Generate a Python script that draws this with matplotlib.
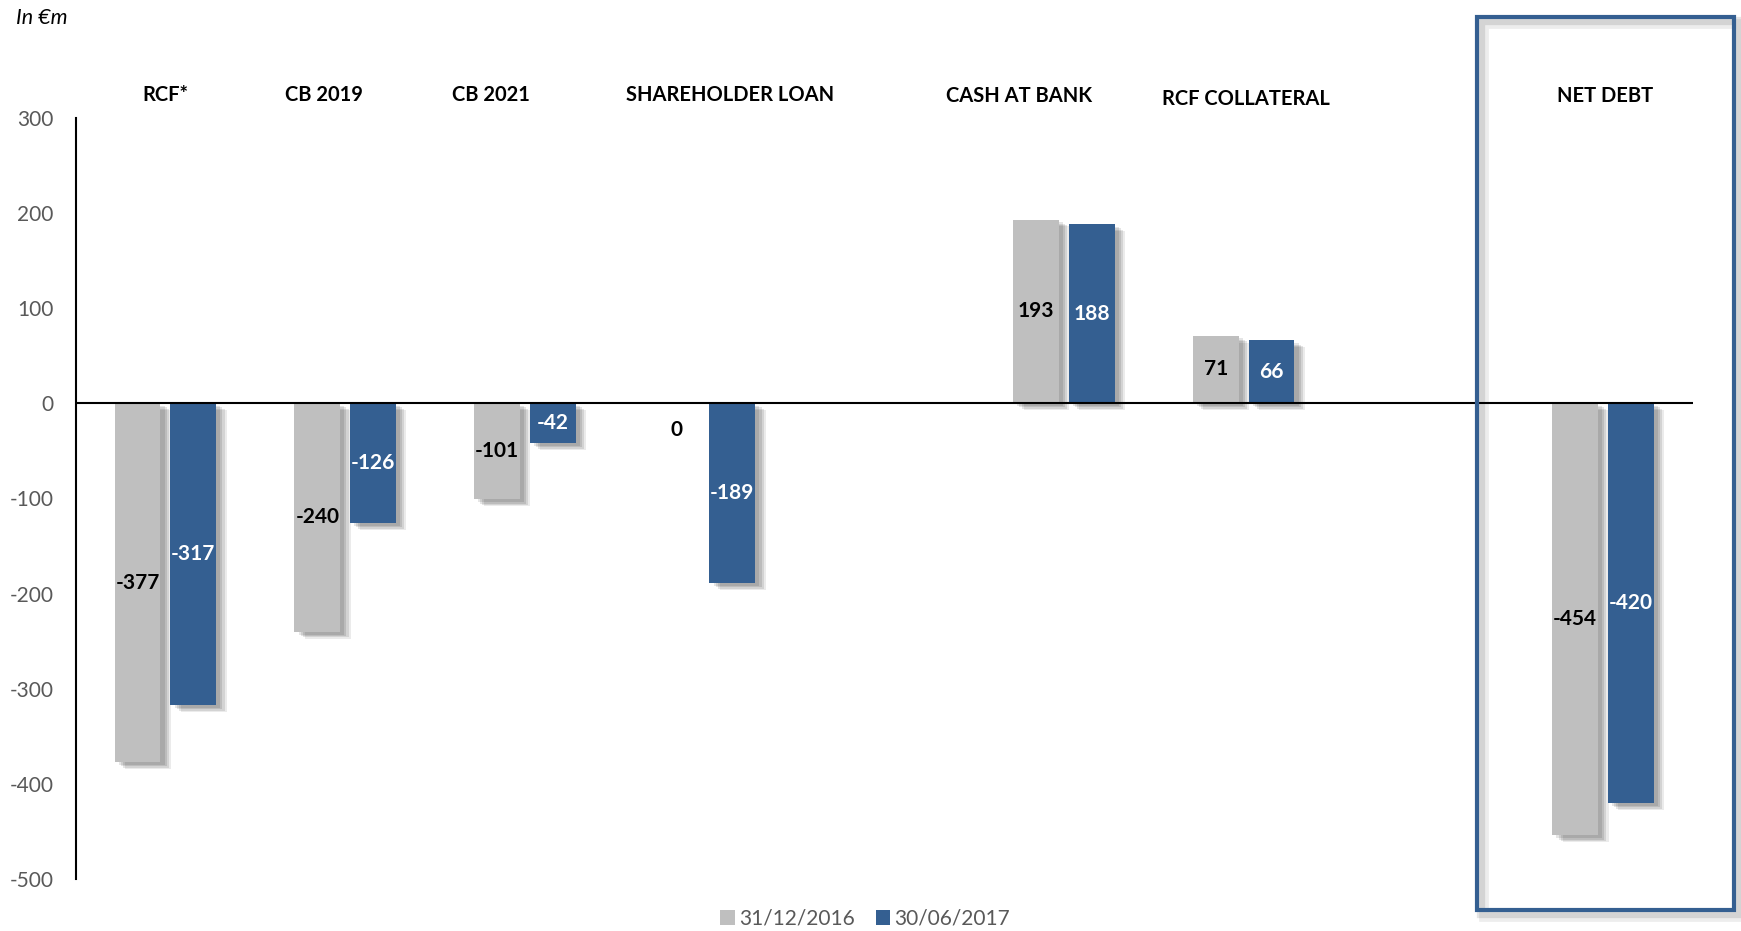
import matplotlib
matplotlib.use("Agg")
import matplotlib.pyplot as plt
import matplotlib.patheffects as pe
from matplotlib.patches import Rectangle, Patch
import numpy as np

plt.rcParams['font.family'] = ['Lato', 'DejaVu Sans']

# ---- data ----
categories = ["RCF*", "CB 2019", "CB 2021", "SHAREHOLDER LOAN", "", "CASH AT BANK",
              "RCF COLLATERAL", "", "NET DEBT"]
series_names = ["31/12/2016", "30/06/2017"]
values_2016 = [-377, -240, -101, 0, None, 193, 71, None, -454]
values_2017 = [-317, -126, -42, -189, None, 188, 66, None, -420]
yticks = [300, 200, 100, 0, -100, -200, -300, -400, -500]

# header label positions (category header text boxes)
header_x = [0.0, 0.88, 1.81, 3.14, None, 4.75, 6.01, None, 8.01]
header_y = [324, 324, 324, 324, None, 323, 320, None, 323]

GRAY = "#BFBFBF"
BLUE = "#345F91"
TXT = "#595959"

fig = plt.figure(figsize=(17.41, 9.31), dpi=100)
ax = fig.add_axes([0.0434, 0.0556, 0.929, 0.818])

x = np.arange(len(categories))
w = 0.255
off = 0.155

def shadow_effects():
    effs = []
    for i, a in enumerate([0.10, 0.10, 0.10, 0.08]):
        effs.append(pe.SimplePatchShadow(offset=(3 + i * 1.5, -2 - i * 1.0),
                                         shadow_rgbFace="black", alpha=a))
    effs.append(pe.Normal())
    return effs

for vals, color, dx, tcolor in [(values_2016, GRAY, -off, "black"),
                                (values_2017, BLUE, off, "white")]:
    xs = [xi + dx for xi, v in zip(x, vals) if v is not None]
    vs = [v for v in vals if v is not None]
    bars = ax.bar(xs, vs, width=w, color=color, zorder=3)
    for b in bars:
        b.set_path_effects(shadow_effects())
    for xi, v in zip(xs, vs):
        if v == 0:
            ax.annotate(f"{v}", (xi, 0), xytext=(0, -19), textcoords="offset points",
                        ha="center", va="center", fontsize=15, fontweight="bold",
                        color="black", zorder=5)
        else:
            ax.text(xi, v / 2, f"{v}", ha="center", va="center", fontsize=15,
                    fontweight="bold", color=tcolor, zorder=5)

# headers
for cx, cy, lab in zip(header_x, header_y, categories):
    if lab:
        ax.text(cx, cy, lab, ha="center", va="center", fontsize=14.5,
                fontweight="bold", color="black", clip_on=False)

ax.set_xlim(-0.5, 8.5)
ax.set_ylim(-500, 300)
ax.set_yticks(yticks)
ax.set_yticklabels([str(t) for t in yticks])
ax.tick_params(axis="y", length=0, pad=16, labelsize=15, labelcolor=TXT)
ax.set_xticks([])
for s in ["top", "right", "bottom"]:
    ax.spines[s].set_visible(False)
ax.spines["left"].set_color("black")
ax.spines["left"].set_linewidth(1.5)
ax.axhline(0, color="black", linewidth=1.5, zorder=4)

# unit
fig.text(0.009, 0.981, "In €m", fontsize=15.5, style="italic", color="black",
         ha="left", va="center")

# Net debt frame
box = Rectangle((0.8484, 0.0226), 0.1476, 0.959, transform=fig.transFigure,
                fill=False, edgecolor=BLUE, linewidth=3.0, zorder=10)
box.set_path_effects([pe.SimpleLineShadow(offset=(3, -3), shadow_color="black", alpha=0.10, linewidth=6),
                      pe.SimpleLineShadow(offset=(5, -5), shadow_color="black", alpha=0.07, linewidth=7),
                      pe.Normal()])
fig.patches.append(box)

# legend
handles = [Patch(facecolor=GRAY, label=series_names[0]),
           Patch(facecolor=BLUE, label=series_names[1])]
leg = fig.legend(handles=handles, loc="center", bbox_to_anchor=(0.497, 0.013),
                 ncol=2, frameon=False, fontsize=15, handlelength=0.7,
                 handleheight=0.7, handletextpad=0.2, columnspacing=1.0)
for t in leg.get_texts():
    t.set_color(TXT)

fig.savefig("out.png", dpi=100)
